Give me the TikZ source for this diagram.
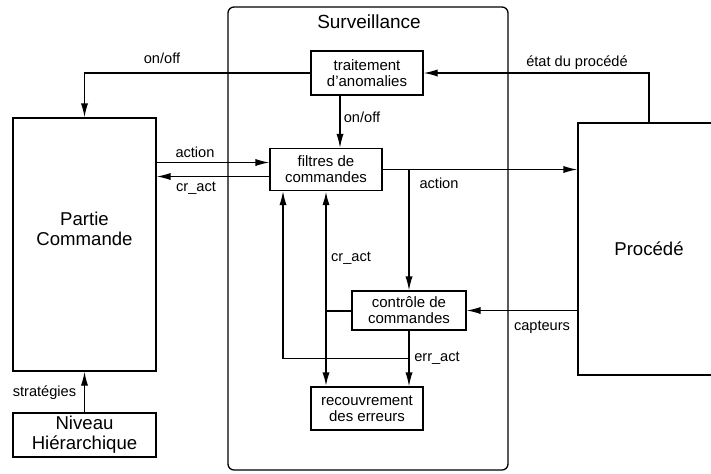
\documentclass[tikz,border=0pt]{standalone}
\usepackage{fontspec}
\setmainfont{Liberation Sans}
\usetikzlibrary{arrows.meta,calc,positioning}
\tikzset{>={Latex[length=7pt,width=3.6pt]}}
\tikzset{%
    boite/.style={draw,line width=0.65pt,align=center,inner sep=0pt,%
        font=\fontsize{7.5}{8}\selectfont%
    },%
    grande/.style={draw,line width=0.65pt,align=center,inner sep=0pt,%
        font=\fontsize{9.3}{10}\selectfont%
    },%
    etiq/.style={inner sep=0pt,font=\fontsize{7.3}{8}\selectfont},%
    fleche/.style={->,line width=0.65pt},%
    grosse/.style={->,line width=1pt}%
}

\begin{document}
\begin{tikzpicture}[x=0.5pt,y=-0.5pt]
      \useasboundingbox (0,0) rectangle (711,473);
      % cadre surveillance
      \draw[line width=0.65pt,rounded corners=3pt] (228,7) rectangle (508,470);
      \node[etiq,font=\fontsize{9.5}{10}\selectfont] (surv) at (369,22) {Surveillance};

      \node[grande,minimum width=71.5pt,minimum height=126.5pt] (pc) at (84.5,244.5) {Partie\\Commande\\[6pt]};
      \node[grande,minimum width=71.5pt,minimum height=22pt] (nh) at (84.5,435) {Niveau\\Hiérarchique};
      \node[grande,minimum width=71pt,minimum height=126pt] (proc) at (649,249) {Procédé};
      \node[boite,minimum width=56pt,minimum height=22pt] (ta) at (367,73) {traitement\\d'anomalies};
      \node[boite,minimum width=56pt,minimum height=21pt] (fc) at (326,169.5) {filtres de\\commandes};
      \node[boite,minimum width=57pt,minimum height=19.5pt] (cc) at (409,310.5) {contrôle de\\commandes};
      \node[boite,minimum width=56pt,minimum height=21.5pt] (re) at (367,408.5) {recouvrement\\des erreurs};

      % liaisons
      \draw[fleche] (ta.west) -| (pc.north);
      \draw[fleche] (proc.north) |- (ta.east);
      \draw[fleche] ([xshift=-13.5pt]ta.south) -- ([xshift=-13.5pt]ta.south |- fc.north);
      \draw[fleche] ([yshift=3.5pt]fc.west -| pc.east) -- ([yshift=3.5pt]fc.west);
      \draw[fleche] ([yshift=-3.5pt]fc.west) -- ([yshift=-3.5pt]fc.west -| pc.east);
      \draw[fleche] (fc.east) -- (fc.east -| proc.west);
      \draw[fleche] (fc.east -| cc.north) -- (cc.north);
      \draw[fleche] (cc.east -| proc.west) -- (cc.east);
      \draw[fleche] (cc.south) -- (cc.south |- re.north);
      \draw[line width=1pt] (cc.west) -- (cc.west -| fc.south);
      \draw[grosse] (cc.west -| fc.south) -- (fc.south);
      \draw[grosse] (cc.west -| fc.south) -- (fc.south |- re.north);
      \coordinate (ea) at ($(cc.south)!0.5!(cc.south |- re.north)$);
      \draw[fleche] (ea) -| ([xshift=-21.5pt]fc.south);
      \draw[fleche] (nh.north) -- (pc.south);

      % etiquettes
      \node[etiq] (l1) at (162,58) {on/off};
      \node[etiq] (l2) at (577,63) {état du procédé};
      \node[etiq] (l3) at (362,117) {on/off};
      \node[etiq] (l4) at (195,152) {action};
      \node[etiq] (l5) at (196,188) {cr\_act};
      \node[etiq] (l6) at (439,183) {action};
      \node[etiq] (l7) at (351,258) {cr\_act};
      \node[etiq] (l8) at (542,327) {capteurs};
      \node[etiq] (l9) at (437,358) {err\_act};
      \node[etiq] (l10) at (44.5,393) {stratégies};
\end{tikzpicture}
\end{document}
